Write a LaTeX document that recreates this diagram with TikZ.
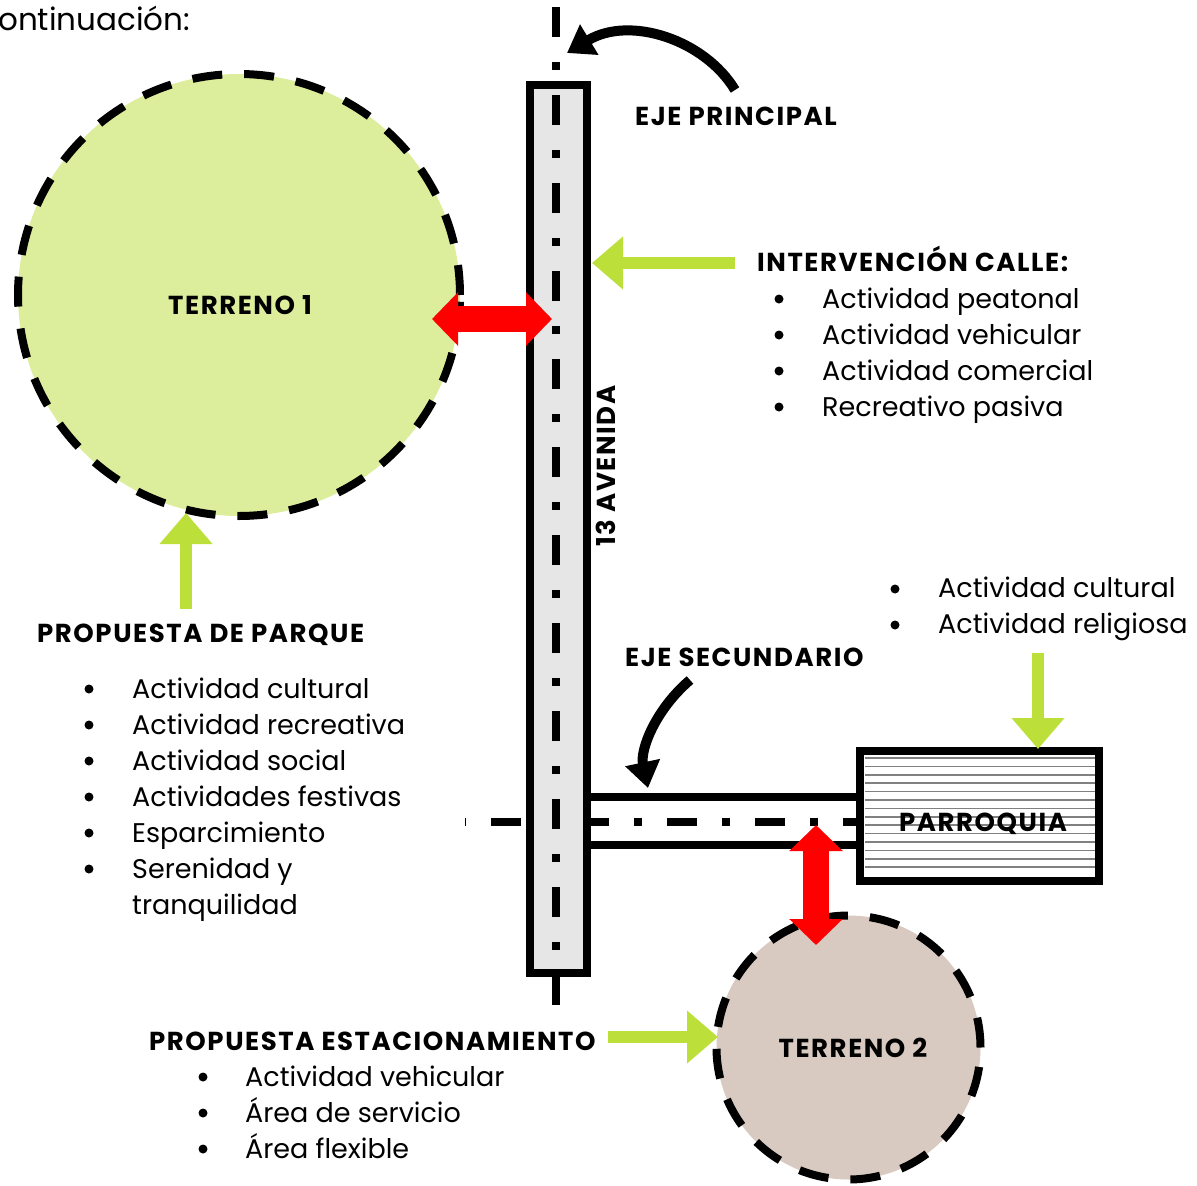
\documentclass[tikz,border=0pt]{standalone}
\usepackage{fontspec}
\setmainfont{Poppins}
\newfontfamily\hdfont{Poppins}[LetterSpace=6]
\usetikzlibrary{arrows.meta}
\definecolor{lime}{RGB}{188,224,57}
\definecolor{parkfill}{RGB}{220,237,155}
\definecolor{lotfill}{RGB}{216,201,193}
\definecolor{avefill}{RGB}{230,230,230}
\tikzset{
 hd/.style={font=\hdfont\bfseries\fontsize{26}{30}\selectfont, inner sep=0, anchor=base west},
 it/.style={font=\fontsize{27}{30}\selectfont, inner sep=0, anchor=base west},
 bu/.style={circle, fill=black, inner sep=0, minimum size=9pt},
 axisline/.style={line width=8pt, dash pattern=on 30pt off 25pt on 8pt off 25pt},
 roadline/.style={line width=8pt},
 lot/.style={circle, draw, line width=8pt, dash pattern=on 30pt off 22pt, inner sep=0},
 greenarr/.style={draw=lime, line width=12pt, -{Triangle[length=31pt,width=51pt]}},
 redarr/.style={draw=red, line width=26pt, {Triangle[length=26pt,width=52pt]}-{Triangle[length=26pt,width=52pt]}},
 curvearr/.style={line width=10pt, -{Triangle[length=26pt,width=34pt]}},
}
\begin{document}
\begin{tikzpicture}[x=1pt,y=-1pt]
\useasboundingbox (0,0) rectangle (1197,1186);
\begin{scope}
\clip (0,0) rectangle (1197,1186);
\node[font=\fontsize{31}{34}\selectfont, inner sep=0, anchor=base west] (intro) at (-2,30) {ontinuación:};
\end{scope}

% secondary road
\coordinate (rdA) at (560,797);
\coordinate (rdB) at (860,797);
\coordinate (rdC) at (560,845);
\coordinate (rdD) at (860,845);
\draw[roadline] (rdA) -- (rdB);
\draw[roadline] (rdC) -- (rdD);
\coordinate (axL) at (465,822);
\coordinate (axR) at (860,822);
\draw[axisline, dash phase=62pt] (axL) -- (axR);

% avenue
\node[draw, fill=avefill, line width=7.5pt, minimum width=57pt, minimum height=888pt, inner sep=0] (ave) at (558.5,529) {};
\coordinate (axT) at (556,7);
\coordinate (axB) at (556,1007);
\draw[axisline] (axT) -- (axB);

% parroquia
\node[draw, fill=white, line width=8pt, minimum width=239pt, minimum height=130pt, inner sep=0] (par) at (979.5,816) {};
\foreach \i in {0,...,13} \draw[gray, line width=1.6pt] (865,758+8.4*\i) -- (1095,758+8.4*\i);
\node[hd, anchor=base] (parlbl) at (983,831) {PARROQUIA};

% lots
\node[lot, fill=parkfill, minimum size=442pt] (t1) at (239,295) {};
\node[hd, anchor=base] (t1lbl) at (240,314) {TERRENO 1};
\node[lot, fill=lotfill, minimum size=264pt] (t2) at (848.5,1047.5) {};
\node[hd, anchor=base] (t2lbl) at (853,1057) {TERRENO 2};

% red arrows
\coordinate (r1a) at (432,319);
\coordinate (r1b) at (552,319);
\draw[redarr] (r1a) -- (r1b);
\coordinate (r2a) at (816,825);
\coordinate (r2b) at (816,945);
\draw[redarr] (r2a) -- (r2b);

% green arrows
\coordinate (g1s) at (735,263); \coordinate (g1e) at (592,263);
\draw[greenarr] (g1s) -- (g1e);
\coordinate (g2s) at (186,609); \coordinate (g2e) at (186,513);
\draw[greenarr] (g2s) -- (g2e);
\coordinate (g3s) at (1038,653); \coordinate (g3e) at (1038,749);
\draw[greenarr] (g3s) -- (g3e);
\coordinate (g4s) at (608,1037); \coordinate (g4e) at (718,1037);
\draw[greenarr] (g4s) -- (g4e);

% curved black arrows
\coordinate (c1s) at (735,90); \coordinate (c1e) at (567,53);
\draw[curvearr] (c1s) .. controls (705,40) and (630,15) .. (c1e);
\coordinate (c2s) at (690,680); \coordinate (c2e) at (648,788);
\draw[curvearr] (c2s) .. controls (655,710) and (640,750) .. (c2e);

% labels
\node[hd] (ejep) at (635,125) {EJE PRINCIPAL};
\node[hd] (ejes) at (625,666) {EJE SECUNDARIO};
\node[hd, rotate=90] (avlbl) at (615,547) {13 AVENIDA};

\node[hd] (intv) at (757,271) {INTERVENCIÓN CALLE:};
\node[bu] (ib1) at (779,299) {}; \node[it] (i1) at (822,308) {Actividad peatonal};
\node[bu] (ib2) at (779,335) {}; \node[it] (i2) at (822,344) {Actividad vehicular};
\node[bu] (ib3) at (779,371) {}; \node[it] (i3) at (822,380) {Actividad comercial};
\node[bu] (ib4) at (779,407) {}; \node[it] (i4) at (822,416) {Recreativo pasiva};

\node[bu] (pb1) at (895,589) {}; \node[it] (p1) at (938,597) {Actividad cultural};
\node[bu] (pb2) at (895,625) {}; \node[it] (p2) at (938,633) {Actividad religiosa};

\node[hd] (parque) at (37,642) {PROPUESTA DE PARQUE};
\node[bu] (qb1) at (89,689) {}; \node[it] (q1) at (132,698) {Actividad cultural};
\node[bu] (qb2) at (89,725) {}; \node[it] (q2) at (132,734) {Actividad recreativa};
\node[bu] (qb3) at (89,761) {}; \node[it] (q3) at (132,770) {Actividad social};
\node[bu] (qb4) at (89,797) {}; \node[it] (q4) at (132,806) {Actividades festivas};
\node[bu] (qb5) at (89,833) {}; \node[it] (q5) at (132,842) {Esparcimiento};
\node[bu] (qb6) at (89,869) {}; \node[it] (q6) at (132,878) {Serenidad y};
\node[it] (q7) at (132,914) {tranquilidad};

\node[hd] (estac) at (149,1050) {PROPUESTA ESTACIONAMIENTO};
\node[bu] (eb1) at (203,1077) {}; \node[it] (e1) at (245,1086) {Actividad vehicular};
\node[bu] (eb2) at (203,1113) {}; \node[it] (e2) at (245,1122) {Área de servicio};
\node[bu] (eb3) at (203,1149) {}; \node[it] (e3) at (245,1158) {Área flexible};
\end{tikzpicture}
\end{document}
